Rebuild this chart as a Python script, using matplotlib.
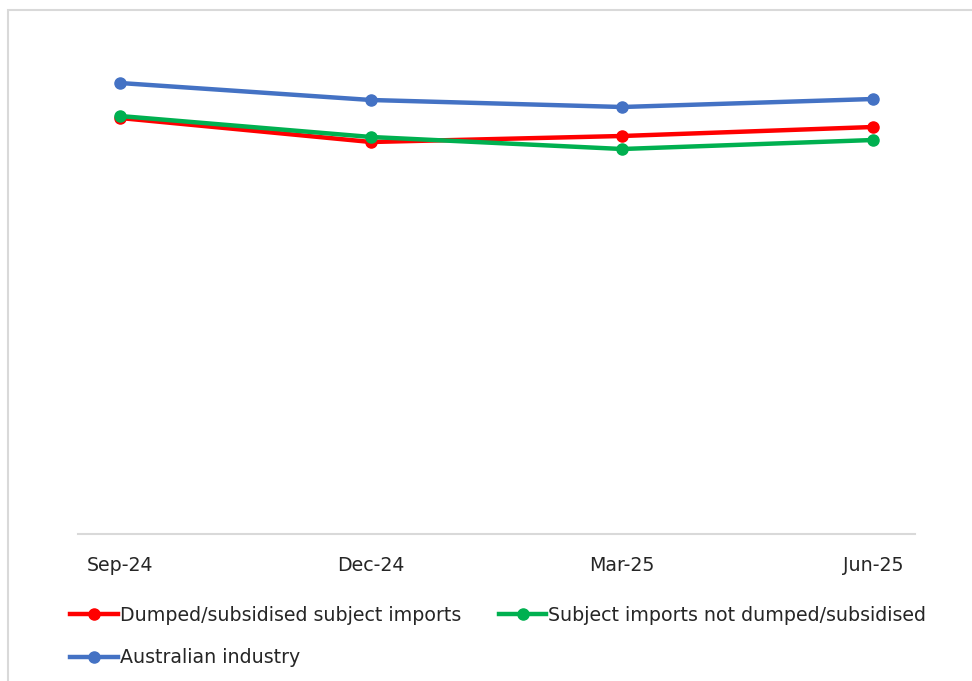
import matplotlib.pyplot as plt
from matplotlib.patches import Rectangle

plt.rcParams['font.family'] = ['DejaVu Sans']

# quarterly index values
quarters = ['Sep-24', 'Dec-24', 'Mar-25', 'Jun-25']
dumped = [83.2, 78.4, 79.6, 81.4]
not_dumped = [83.6, 79.4, 77.0, 78.8]
australian = [90.2, 86.8, 85.4, 87.0]

fig = plt.figure(figsize=(9.72, 6.81), dpi=100)
ax = fig.add_axes([78 / 972, (681 - 534) / 681, (915 - 78) / 972, 500 / 681])

# chart area border
fig.patches.append(Rectangle((8 / 972, -0.1), 1.2, (681 - 10) / 681 + 0.1,
                             transform=fig.transFigure, fill=False,
                             edgecolor='#d9d9d9', linewidth=1.5))

x = range(len(quarters))
l1, = ax.plot(x, dumped, color='#ff0000', lw=3.2, marker='o', ms=8,
              label='Dumped/subsidised subject imports')
l2, = ax.plot(x, not_dumped, color='#00b050', lw=3.2, marker='o', ms=8,
              label='Subject imports not dumped/subsidised')
l3, = ax.plot(x, australian, color='#4472c4', lw=3.2, marker='o', ms=8,
              label='Australian industry')

ax.set_xlim(-42 / 251, 3 + 42 / 251)
ax.set_ylim(0, 100)
ax.set_xticks(list(x))
ax.set_xticklabels(quarters, fontsize=13.7, color='#262626')
ax.tick_params(axis='x', length=0, pad=15.5)
ax.set_yticks([])
for side in ['top', 'right', 'left']:
    ax.spines[side].set_visible(False)
ax.spines['bottom'].set_color('#d9d9d9')
ax.spines['bottom'].set_linewidth(1.5)

fig.legend([l1, l3, l2], [l1.get_label(), l3.get_label(), l2.get_label()],
           ncol=2, loc='upper left', bbox_to_anchor=(53 / 972, 1 - 589 / 681),
           frameon=False, fontsize=13.7, handlelength=2.5, handletextpad=0.1,
           columnspacing=2.0, labelspacing=1.22, labelcolor='#262626')

fig.savefig('out.png', dpi=100)
